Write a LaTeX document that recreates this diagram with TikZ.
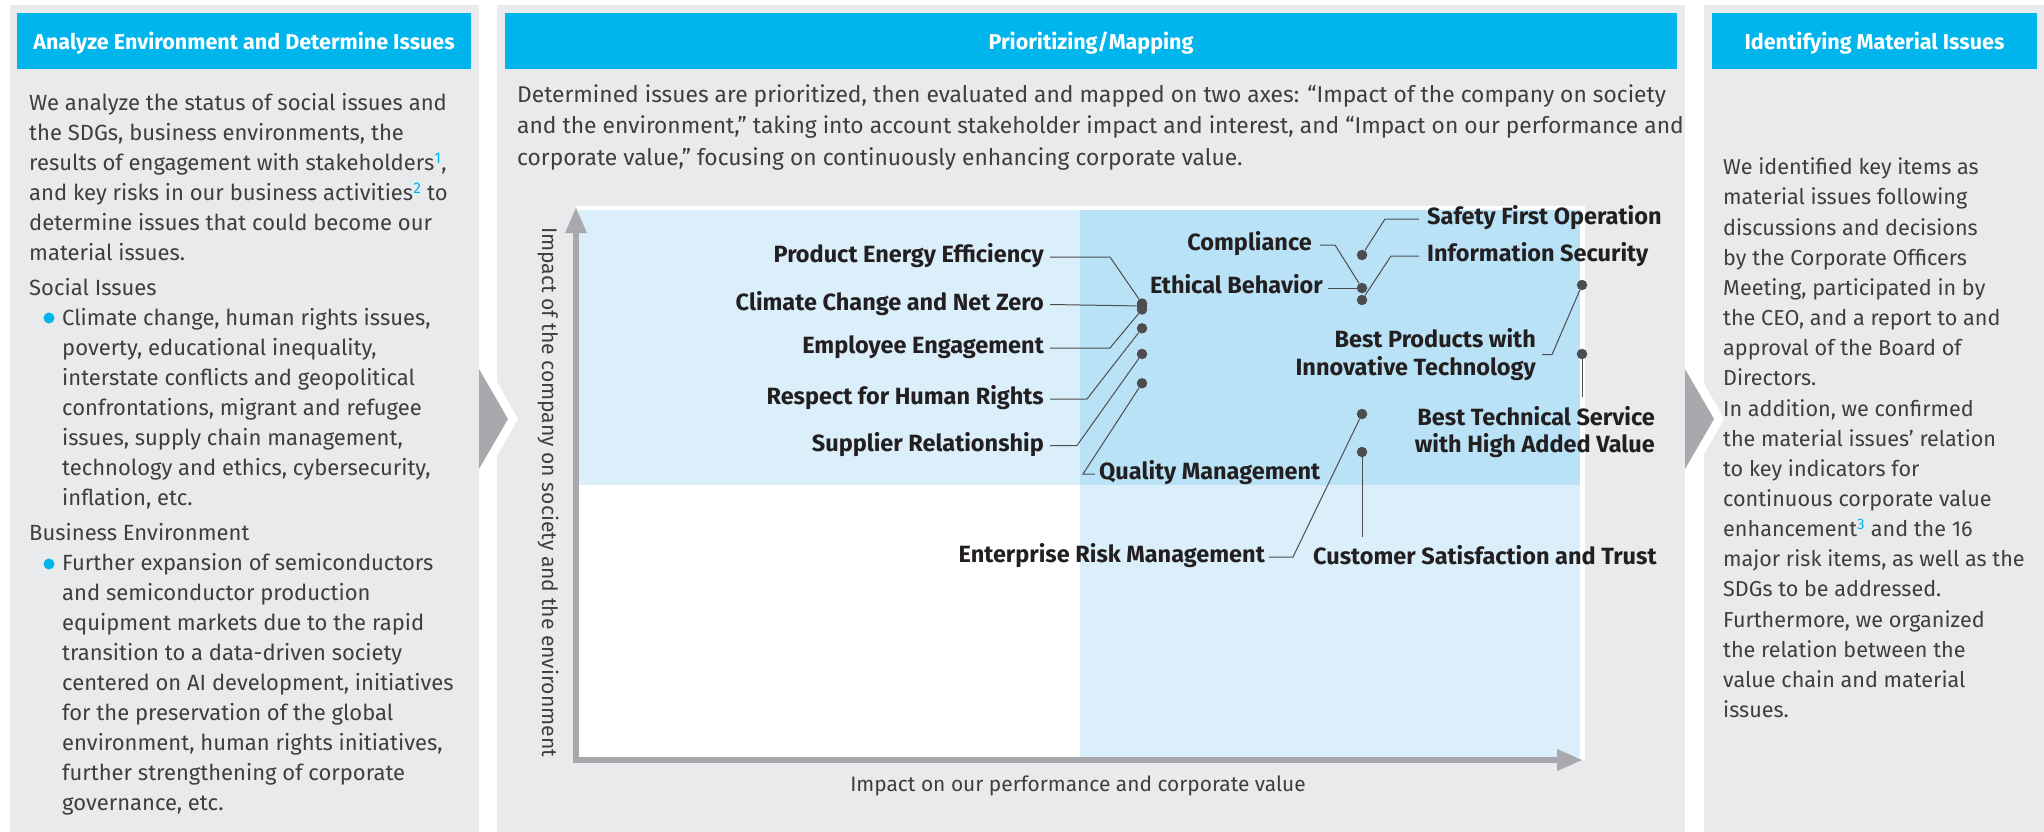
\documentclass[tikz,border=0pt]{standalone}
\usepackage{fontspec}
\setmainfont{Fira Sans}
\usepackage{xcolor}
\usetikzlibrary{arrows.meta,positioning}

\definecolor{panelgray}{HTML}{E9EAEC}
\definecolor{headblue}{HTML}{00B5EC}
\definecolor{paleblue}{HTML}{DAEFFA}
\definecolor{midblue}{HTML}{B9E2F7}
\definecolor{axisgray}{HTML}{A7A9AC}
\definecolor{dotgray}{HTML}{4D4D4F}
\definecolor{bodytext}{HTML}{3E3E40}
\definecolor{labeltext}{HTML}{231F20}

\newcommand\bodyfont{\fontsize{22}{30}\selectfont}
\newcommand\issuefont{\fontsize{23.5}{25}\selectfont\bfseries}
\newcommand\fnote[1]{\textsuperscript{\textcolor{headblue}{#1}}}

\begin{document}
\begin{tikzpicture}[
    x=1pt, y=-1pt,
    panel/.style={fill=panelgray, inner sep=0pt, minimum height=827pt},
    header/.style={fill=headblue, text=white, inner sep=0pt, minimum height=56pt,
                   text height=18pt, text depth=0pt,
                   font=\fontsize{21.5}{24}\selectfont\bfseries},
    body/.style={text=bodytext, align=left, inner sep=0pt, anchor=north west, font=\bodyfont},
    bullet/.style={circle, fill=headblue, inner sep=0pt, minimum size=11pt},
    issue/.style={text=labeltext, inner sep=0pt, font=\issuefont,
                  text height=11pt, text depth=0pt},
    issuetwo/.style={text=labeltext, inner sep=0pt, font=\issuefont, align=right},
    dot/.style={circle, fill=dotgray, inner sep=0pt, minimum size=10.5pt},
    leader/.style={draw=dotgray, line width=1pt},
    axis/.style={draw=axisgray, line width=6pt, line join=miter,
                 >={Triangle[length=26pt,width=20pt]}, <->},
  ]
  \useasboundingbox (0,0) rectangle (2044,832);
  \fill[white] (0,0) rectangle (2044,832);

  % --- three columns with their headers -------------------------------
  \node[panel, minimum width=469pt]  (envpanel) at (244.5,418.5) {};
  \node[panel, minimum width=1188pt] (mappanel) at (1091,418.5) {};
  \node[panel, minimum width=340pt]  (idpanel)  at (1874,418.5) {};

  \node[header, minimum width=454pt]  (envhead) at (244,41)    {Analyze Environment and Determine Issues};
  \node[header, minimum width=1172pt] (maphead) at (1091,41)   {Prioritizing/Mapping};
  \node[header, minimum width=325pt]  (idhead)  at (1874.5,41) {Identifying Material Issues};

  % chevrons in the gaps
  \foreach \cx in {479,1685}{
    \fill[white] (\cx,350) -- ++(39,69) -- ++(-39,69) -- cycle;
    \fill[axisgray] (\cx,369) -- ++(29,50) -- ++(-29,50) -- cycle;
  }

  % --- left column text -----------------------------------------------
  \node[body] (envtext) at (29,89.7) {\strut We analyze the status of social issues and\\
    the SDGs, business environments, the\\
    results of engagement with stakeholders\fnote{1},\\
    and key risks in our business activities\fnote{2} to\\
    determine issues that could become our\\
    material issues.\\[5pt]
    Social Issues\\
    \hspace*{33pt}Climate change, human rights issues,\\
    \hspace*{33pt}poverty, educational inequality,\\
    \hspace*{33pt}interstate conflicts and geopolitical\\
    \hspace*{33pt}confrontations, migrant and refugee\\
    \hspace*{33pt}issues, supply chain management,\\
    \hspace*{33pt}technology and ethics, cybersecurity,\\
    \hspace*{33pt}inflation, etc.\\[5pt]
    Business Environment\\
    \hspace*{33pt}Further expansion of semiconductors\\
    \hspace*{33pt}and semiconductor production\\
    \hspace*{33pt}equipment markets due to the rapid\\
    \hspace*{33pt}transition to a data-driven society\\
    \hspace*{33pt}centered on AI development, initiatives\\
    \hspace*{33pt}for the preservation of the global\\
    \hspace*{33pt}environment, human rights initiatives,\\
    \hspace*{33pt}further strengthening of corporate\\
    \hspace*{33pt}governance, etc.};
  \node[bullet] (socialdot)   at (49,318) {};
  \node[bullet] (businessdot) at (49,564) {};

  % --- middle column text ---------------------------------------------
  \node[body, font=\fontsize{22.8}{31.5}\selectfont] (maptext) at (517,80)
    {\strut Determined issues are prioritized, then evaluated and mapped on two axes: “Impact of the company on society\\
     and the environment,” taking into account stakeholder impact and interest, and “Impact on our performance and\\
     corporate value,” focusing on continuously enhancing corporate value.};

  % --- right column text ----------------------------------------------
  \node[body, font=\fontsize{21.6}{30.15}\selectfont] (idtext) at (1723,153.5)
    {\strut We identified key items as\\
     material issues following\\
     discussions and decisions\\
     by the Corporate Officers\\
     Meeting, participated in by\\
     the CEO, and a report to and\\
     approval of the Board of\\
     Directors.\\
     In addition, we confirmed\\
     the material issues’ relation\\
     to key indicators for\\
     continuous corporate value\\
     enhancement\fnote{3} and the 16\\
     major risk items, as well as the\\
     SDGs to be addressed.\\
     Furthermore, we organized\\
     the relation between the\\
     value chain and material\\
     issues.};

  % --- materiality map ------------------------------------------------
  \fill[white]     (576,206)  rectangle (1585,760);
  \fill[paleblue]  (579,210)  rectangle (1080,485);
  \fill[midblue]   (1080,210) rectangle (1580,485);
  \fill[paleblue]  (1080,485) rectangle (1580,757);

  \coordinate (origin) at (576,760);
  \coordinate (ytip)   at (576,207);
  \coordinate (xtip)   at (1583,760);
  \draw[axis] (ytip) -- (origin) -- (xtip);

  \node[body, anchor=base, rotate=-90, font=\fontsize{21.1}{24}\selectfont] (ylabel) at (542,492)
    {Impact of the company on society and the environment};
  \node[body, anchor=base, font=\fontsize{20.9}{24}\selectfont] (xlabel) at (1078,791.7)
    {Impact on our performance and corporate value};

  % issues placed on the left half
  \node[issue, anchor=east] (energy)  at (1044,257)   {Product Energy Efficiency};
  \node[issue, anchor=east] (climate) at (1044,304.5) {Climate Change and Net Zero};
  \node[issue, anchor=east] (staff)   at (1044,348)   {Employee Engagement};
  \node[issue, anchor=east] (rights)  at (1044,399)   {Respect for Human Rights};
  \node[issue, anchor=east] (supply)  at (1044,445.5) {Supplier Relationship};
  \node[issue, anchor=west] (quality) at (1099,474)   {Quality Management};

  \node[dot] (energy pt)  at (1142,303.5) {};
  \node[dot] (climate pt) at (1142,306)   {};
  \node[dot] (staff pt)   at (1142,309.5) {};
  \node[dot] (rights pt)  at (1142,328.3) {};
  \node[dot] (supply pt)  at (1142,354)   {};
  \node[dot] (quality pt) at (1142,383.3) {};

  \draw[leader] ([xshift=6pt]energy.east) -- ++(60,0) -- (energy pt);
  \draw[leader] ([xshift=6pt]climate.east) -- (climate pt);
  \draw[leader] ([xshift=6pt]staff.east) -- ++(60,0) -- (staff pt);
  \draw[leader] ([xshift=6pt]rights.east) -- ++(37,0) -- (rights pt);
  \draw[leader] ([xshift=6pt]supply.east) -- ++(27,0) -- (supply pt);
  \draw[leader] ([xshift=-4pt]quality.west) -- ++(-12,0) -- (quality pt);

  % issues placed on the right half
  \node[issue, anchor=west] (safety)     at (1427,219) {Safety First Operation};
  \node[issue, anchor=east] (compliance) at (1312,245) {Compliance};
  \node[issue, anchor=east] (ethics)     at (1323,288) {Ethical Behavior};
  \node[issue, anchor=west] (infosec)    at (1427,256) {Information Security};
  \node[issuetwo, anchor=north east] (products) at (1536,328.5)
    {\strut Best Products with\\Innovative Technology};
  \node[issuetwo, anchor=north east] (service) at (1655,405.8)
    {\strut Best Technical Service\\with High Added Value};
  \node[issue, anchor=east] (risk)     at (1265,557) {Enterprise Risk Management};
  \node[issue, anchor=west] (customer) at (1313,559) {Customer Satisfaction and Trust};

  \node[dot] (safety pt)   at (1362,255) {};
  \node[dot] (ethics pt)   at (1362,288) {};
  \node[dot] (infosec pt)  at (1362,300) {};
  \node[dot] (risk pt)     at (1362,414) {};
  \node[dot] (customer pt) at (1362,452) {};
  \node[dot] (products pt) at (1582,285) {};
  \node[dot] (service pt)  at (1582,354) {};

  \draw[leader] ([xshift=-8pt]safety.west) -- ++(-34,0) -- (safety pt);
  \draw[leader] ([xshift=8pt]compliance.east) -- ++(15,0) -- (ethics pt);
  \draw[leader] ([xshift=5pt]ethics.east) -- (ethics pt);
  \draw[leader] ([xshift=-8pt]infosec.west) -- ++(-28,0) -- (infosec pt);
  \draw[leader] ([xshift=6pt]products.east) -- ++(10,0) -- (products pt);
  \draw[leader, shorten >=9pt] (service pt) -- (service pt |- service.north);
  \draw[leader] ([xshift=4pt]risk.east) -- ++(24,0) -- (risk pt);
  \draw[leader, shorten >=16.5pt] (customer pt) -- (customer pt |- customer.north);
\end{tikzpicture}
\end{document}
